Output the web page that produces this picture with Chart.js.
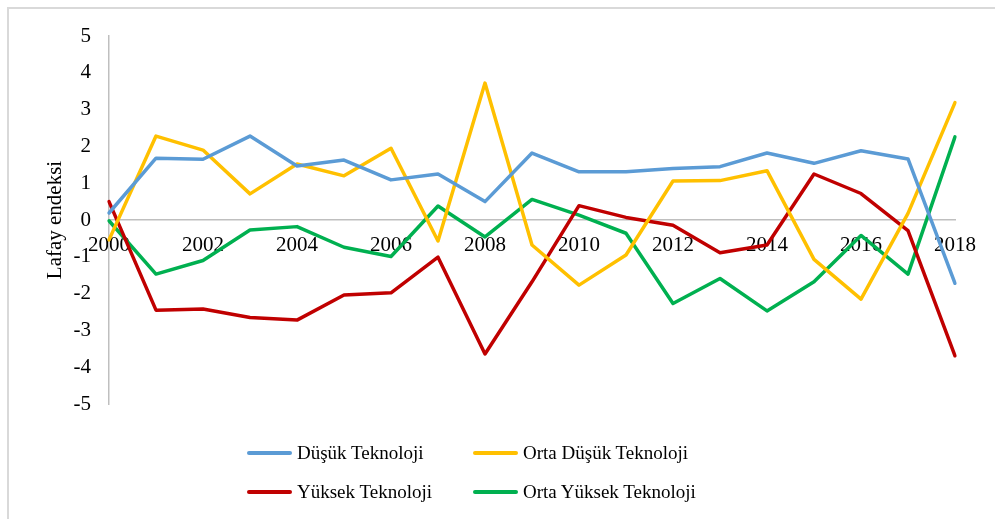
<!DOCTYPE html>
<html lang="tr">
<head>
    <meta charset="UTF-8">
    <title>Lafay endeksi</title>
    <script src="https://cdn.jsdelivr.net/npm/chart.js"></script>
    <style>
        body {
            margin: 0;
            background: #ffffff;
            font-family: "Liberation Serif", "Times New Roman", serif;
        }
        .wrap {
            position: relative;
            width: 995px;
            height: 519px;
            overflow: hidden;
        }
        .frame {
            position: absolute;
            left: 7px;
            top: 7px;
            width: 1200px;
            height: 800px;
            border-top: 2px solid #d9d9d9;
            border-left: 2px solid #d9d9d9;
        }
        canvas {
            position: absolute;
            left: 0;
            top: 0;
        }
        .legend {
            position: absolute;
            left: 247px;
            top: 440px;
            display: grid;
            grid-template-columns: 226px 260px;
            row-gap: 13px;
            font-size: 19px;
            color: #000;
        }
        .legend div {
            display: flex;
            align-items: center;
            height: 26px;
        }
        .legend span.swatch {
            display: inline-block;
            width: 45px;
            height: 4px;
            border-radius: 2px;
            margin-right: 5px;
        }
    </style>
</head>
<body>
    <div class="wrap">
        <div class="frame"></div>
        <canvas id="lafayChart" width="995" height="519"></canvas>
        <div class="legend" id="legend"></div>
    </div>

    <script>
        // yillar
        const years = ['2000', '2001', '2002', '2003', '2004', '2005', '2006', '2007', '2008', '2009',
                       '2010', '2011', '2012', '2013', '2014', '2015', '2016', '2017', '2018'];

        const dusukTek = [0.19, 1.68, 1.65, 2.28, 1.47, 1.63, 1.09, 1.25, 0.5, 1.82,
                          1.31, 1.31, 1.4, 1.45, 1.82, 1.54, 1.88, 1.66, -1.72];
        const ortaDusukTek = [-0.54, 2.28, 1.9, 0.71, 1.52, 1.2, 1.95, -0.57, 3.72, -0.68,
                              -1.77, -0.95, 1.06, 1.07, 1.34, -1.07, -2.15, 0.18, 3.19];
        const yuksekTek = [0.5, -2.45, -2.42, -2.65, -2.72, -2.04, -1.98, -1.01, -3.64, -1.68,
                           0.39, 0.07, -0.14, -0.89, -0.68, 1.25, 0.72, -0.29, -3.69];
        const ortaYuksekTek = [-0.02, -1.47, -1.1, -0.27, -0.18, -0.74, -0.99, 0.38, -0.46, 0.56,
                               0.13, -0.36, -2.27, -1.59, -2.47, -1.68, -0.42, -1.47, 2.26];

        const yTicks = [-5, -4, -3, -2, -1, 0, 1, 2, 3, 4, 5];

        const seriesNames = ['Düşük Teknoloji', 'Orta Düşük Teknoloji', 'Yüksek Teknoloji', 'Orta Yüksek Teknoloji'];
        const seriesColors = ['#5B9BD5', '#FFC000', '#C00000', '#00B050'];
        const seriesData = [dusukTek, ortaDusukTek, yuksekTek, ortaYuksekTek];

        const fontFamily = '"Liberation Serif", "Times New Roman", serif';

        const datasets = seriesNames.map(function(name, i) {
            return {
                label: name,
                data: seriesData[i],
                borderColor: seriesColors[i],
                backgroundColor: seriesColors[i],
                borderWidth: 3.5,
                pointRadius: 0,
                tension: 0,
                borderJoinStyle: 'round',
                borderCapStyle: 'round',
                fill: false
            };
        });

        // legend (2 x 2)
        const legendEl = document.getElementById('legend');
        [0, 1, 2, 3].forEach(function(i) {
            const item = document.createElement('div');
            item.innerHTML = '<span class="swatch" style="background:' + seriesColors[i] + '"></span>' + seriesNames[i];
            legendEl.appendChild(item);
        });

        new Chart(document.getElementById('lafayChart'), {
            type: 'line',
            data: {
                labels: years,
                datasets: datasets
            },
            options: {
                responsive: false,
                animation: false,
                layout: {
                    padding: { top: 36, right: 40, bottom: 115, left: 0 }
                },
                plugins: {
                    legend: { display: false },
                    tooltip: { enabled: false }
                },
                scales: {
                    x: {
                        position: { y: 0 },
                        offset: false,
                        grid: { display: false, drawTicks: false },
                        border: { display: true, color: '#bfbfbf', width: 1.5 },
                        ticks: {
                            autoSkip: false,
                            maxRotation: 0,
                            padding: 13,
                            color: '#000',
                            font: { family: fontFamily, size: 21 },
                            callback: function(val, idx) {
                                return idx % 2 === 0 ? years[idx] : '';
                            }
                        }
                    },
                    y: {
                        min: -5,
                        max: 5,
                        afterBuildTicks: function(scale) {
                            scale.ticks = yTicks.map(function(v) { return { value: v }; });
                        },
                        afterFit: function(scale) {
                            scale.width = 109;
                        },
                        grid: { display: false, drawTicks: false },
                        border: { display: true, color: '#bfbfbf', width: 1.5 },
                        ticks: {
                            padding: 18,
                            color: '#000',
                            font: { family: fontFamily, size: 21 }
                        },
                        title: {
                            display: true,
                            text: 'Lafay endeksi',
                            color: '#000',
                            padding: { top: 43, bottom: 0 },
                            font: { family: fontFamily, size: 21 }
                        }
                    }
                }
            }
        });
    </script>
</body>
</html>
